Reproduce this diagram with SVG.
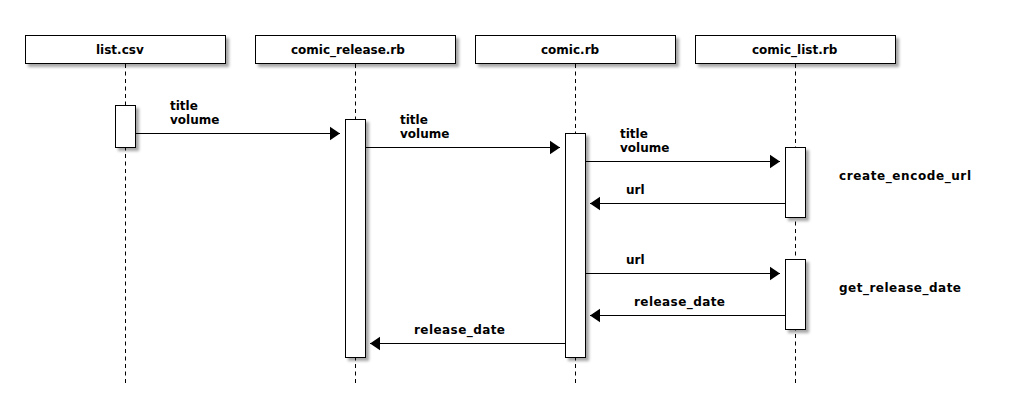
<svg xmlns="http://www.w3.org/2000/svg" width="1010" height="420" viewBox="0 0 1010 420">
<style>
text{font-family:"DejaVu Sans","Liberation Sans",sans-serif;font-weight:bold;font-size:12px;fill:#000}
.box{fill:#fff;stroke:#000;stroke-width:1}
.shadow{fill:#000;opacity:0.35;filter:url(#blur)}
.life{stroke:#000;stroke-width:1;stroke-dasharray:4 3.5;fill:none}
.msg{stroke:#000;stroke-width:1;fill:none;marker-end:url(#arrow)}
</style>
<defs>
<filter id="blur" x="-20%" y="-20%" width="140%" height="140%"><feGaussianBlur stdDeviation="1.5"/></filter>
<marker id="arrow" markerUnits="userSpaceOnUse" markerWidth="12" markerHeight="16" viewBox="0 0 12 16" refX="11" refY="8" orient="auto">
<path d="M1,1.3 L11,8 L1,14.7 Z" fill="#000"/>
</marker>
</defs>
<rect width="1010" height="420" fill="#fff"/>
<g id="lifelines">
<line class="life" x1="125.5" y1="64" x2="125.5" y2="383"/>
<line class="life" x1="355.5" y1="64" x2="355.5" y2="383"/>
<line class="life" x1="575.5" y1="64" x2="575.5" y2="383"/>
<line class="life" x1="795.5" y1="64" x2="795.5" y2="383"/>
</g>
<g id="node-list-csv">
<rect class="shadow" x="28" y="38" width="201" height="29"/>
<rect class="box" x="25.5" y="35.5" width="200" height="28"/>
<text x="96" y="54">list.csv</text>
</g>
<g id="node-comic-release">
<rect class="shadow" x="258" y="38" width="201" height="29"/>
<rect class="box" x="255.5" y="35.5" width="200" height="28"/>
<text x="291" y="54">comic_release.rb</text>
</g>
<g id="node-comic">
<rect class="shadow" x="478" y="38" width="201" height="29"/>
<rect class="box" x="475.5" y="35.5" width="200" height="28"/>
<text x="541" y="54">comic.rb</text>
</g>
<g id="node-comic-list">
<rect class="shadow" x="698" y="38" width="201" height="29"/>
<rect class="box" x="695.5" y="35.5" width="200" height="28"/>
<text x="752" y="54">comic_list.rb</text>
</g>
<g id="activations">
<g id="act-list-csv">
<rect class="shadow" x="118" y="108" width="21" height="43"/>
<rect class="box" x="115.5" y="105.5" width="20" height="42"/>
</g>
<g id="act-comic-release">
<rect class="shadow" x="348" y="122" width="21" height="239"/>
<rect class="box" x="345.5" y="119.5" width="20" height="238"/>
</g>
<g id="act-comic">
<rect class="shadow" x="568" y="136" width="21" height="225"/>
<rect class="box" x="565.5" y="133.5" width="20" height="224"/>
</g>
<g id="act-comic-list-1">
<rect class="shadow" x="788" y="150" width="21" height="71"/>
<rect class="box" x="785.5" y="147.5" width="20" height="70"/>
</g>
<g id="act-comic-list-2">
<rect class="shadow" x="788" y="262" width="21" height="71"/>
<rect class="box" x="785.5" y="259.5" width="20" height="70"/>
</g>
</g>
<g id="connectors">
<line class="msg" x1="136" y1="133.5" x2="340" y2="133.5"/>
<line class="msg" x1="366" y1="147.5" x2="560" y2="147.5"/>
<line class="msg" x1="586" y1="161.5" x2="780" y2="161.5"/>
<line class="msg" x1="785" y1="203.5" x2="590" y2="203.5"/>
<line class="msg" x1="586" y1="273.5" x2="780" y2="273.5"/>
<line class="msg" x1="785" y1="315.5" x2="590" y2="315.5"/>
<line class="msg" x1="565" y1="343.5" x2="370" y2="343.5"/>
</g>
<g id="labels">
<text x="170" y="110">title</text>
<text x="170" y="124">volume</text>
<text x="400" y="124">title</text>
<text x="400" y="138">volume</text>
<text x="620" y="138">title</text>
<text x="620" y="152">volume</text>
<text x="626" y="194">url</text>
<text x="626" y="264">url</text>
<text x="634" y="306" textLength="91" lengthAdjust="spacing">release_date</text>
<text x="414" y="334" textLength="91" lengthAdjust="spacing">release_date</text>
<text x="839" y="180" textLength="132" lengthAdjust="spacing">create_encode_url</text>
<text x="839" y="292" textLength="122" lengthAdjust="spacing">get_release_date</text>
</g>
</svg>
